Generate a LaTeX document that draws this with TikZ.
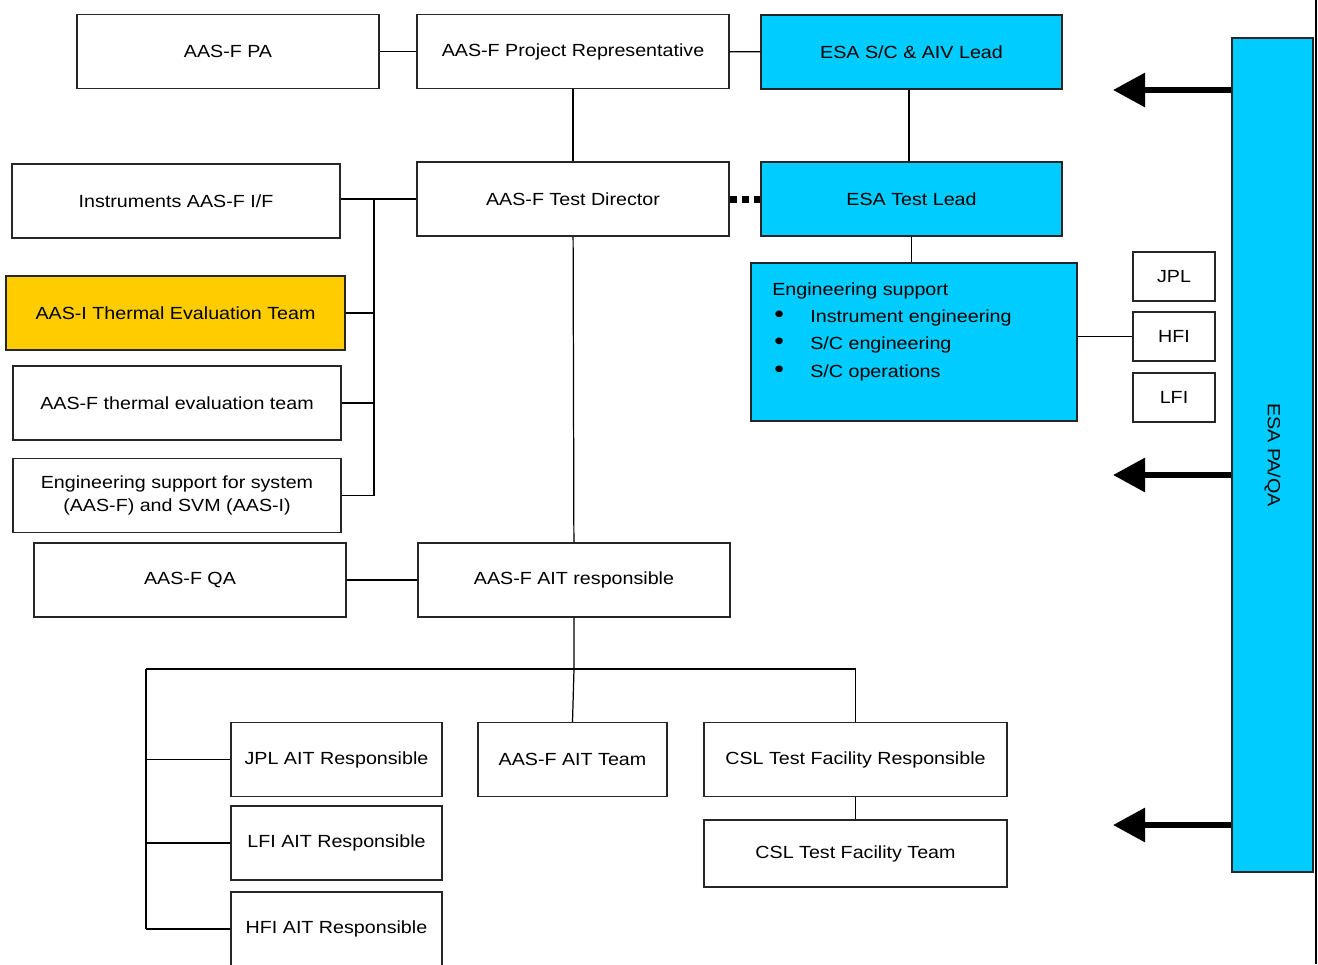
\documentclass[tikz,border=0pt]{standalone}
\usepackage{fontspec}
\setmainfont{Liberation Sans}[FakeStretch=1.12]
\usepackage{tikz}
\usetikzlibrary{arrows.meta}
\definecolor{esablue}{HTML}{00CCFF}
\definecolor{aasyellow}{HTML}{FFCC00}

\begin{document}
\begin{tikzpicture}[x=0.02cm,y=-0.02cm,
    font=\fontsize{10}{12}\selectfont,
    box/.style={draw=black!85, line width=0.7pt, minimum height=1.48cm, inner sep=2pt},
    esabox/.style={box, fill=esablue},
    link/.style={line width=0.7pt},
    buslink/.style={line width=1pt},
    bigarrow/.style={line width=0.12cm, -{Triangle[length=0.64cm,width=0.66cm]}}]
  \clip (0,0) rectangle (1318,964);
  % top row
  \node[box, minimum width=6.04cm] (pa) at (228,51.5) {AAS-F PA};
  \node[box, minimum width=6.24cm] (projrep) at (573,51.5) {AAS-F Project Representative};
  \node[esabox, minimum width=6.02cm] (esasc) at (911.5,52) {ESA S/C \& AIV Lead};
  % second row
  \node[box, minimum width=6.56cm] (instr) at (176,201) {Instruments AAS-F I/F};
  \node[box, minimum width=6.24cm] (testdir) at (573,199) {AAS-F Test Director};
  \node[esabox, minimum width=6.02cm] (esatest) at (911.5,199) {ESA Test Lead};
  % left column
  \node[box, fill=aasyellow, minimum width=6.78cm] (thermi) at (175.5,313) {AAS-I Thermal Evaluation Team};
  \node[box, minimum width=6.56cm] (thermf) at (177,403) {AAS-F thermal evaluation team};
  \node[box, minimum width=6.56cm, align=center, font=\fontsize{10}{13.5}\selectfont] (engsys) at (177,495.5) {Engineering support for system\\(AAS-F) and SVM (AAS-I)};
  \node[box, minimum width=6.24cm] (qa) at (190,580) {AAS-F QA};
  \node[box, minimum width=6.24cm] (ait) at (574,580) {AAS-F AIT responsible};
  % bottom rows
  \node[box, minimum width=4.22cm] (jplait) at (336.5,759.5) {JPL AIT Responsible};
  \node[box, minimum width=4.22cm] (lfiait) at (336.5,843) {LFI AIT Responsible};
  \node[box, minimum width=4.22cm] (hfiait) at (336.5,929) {HFI AIT Responsible};
  \node[box, minimum width=3.78cm] (aitteam) at (572.5,759.5) {AAS-F AIT Team};
  \node[box, minimum width=6.06cm] (cslresp) at (855.5,759.5) {CSL Test Facility Responsible};
  \node[box, minimum width=6.06cm, minimum height=1.34cm] (cslteam) at (855.5,853.5) {CSL Test Facility Team};
  % ESA engineering support
  \node[esabox, minimum width=6.52cm, minimum height=3.16cm] (engbox) at (914,342) {};
  \node[anchor=north west, align=left, inner sep=0pt, font=\fontsize{10}{15.6}\selectfont] (engtxt) at (772,282)
    {Engineering support\\
     \makebox[0.76cm][l]{\hspace{0.04cm}{\fontsize{14}{14}\selectfont\textbullet}}Instrument engineering\\
     \makebox[0.76cm][l]{\hspace{0.04cm}{\fontsize{14}{14}\selectfont\textbullet}}S/C engineering\\
     \makebox[0.76cm][l]{\hspace{0.04cm}{\fontsize{14}{14}\selectfont\textbullet}}S/C operations};
  \node[box, minimum width=1.64cm, minimum height=0.98cm] (jpl) at (1174,276.5) {JPL};
  \node[box, minimum width=1.64cm, minimum height=0.98cm] (hfi) at (1174,336.5) {HFI};
  \node[box, minimum width=1.64cm, minimum height=0.98cm] (lfi) at (1174,397.5) {LFI};
  % PA/QA bar
  \node[esabox, minimum width=1.62cm, minimum height=16.68cm] (paqa) at (1272.5,455) {};
  \node[rotate=-90] (paqatxt) at (paqa.center) {ESA PA/QA};

  \coordinate (lbus) at (374,0);
  \coordinate (bbus) at (146,669);
  \coordinate (edge) at (1316,0);

  % connectors
  \draw[link] (pa) -- (projrep);
  \draw[link] (projrep) -- (esasc);
  \draw[link] (projrep) -- (testdir);
  \draw[link] (esasc.south -| 909,0) -- (esatest.north -| 909,0);
  \draw[line width=0.14cm, dash pattern=on 0.14cm off 0.1cm] (testdir.east) -- (esatest.west);
  \draw[buslink] (testdir.west) -- (instr.east |- testdir.west);
  \draw[buslink] (lbus |- testdir.west) -- (lbus |- engsys.east);
  \draw[buslink] (thermi.east) -- (lbus |- thermi.east);
  \draw[buslink] (thermf.east) -- (lbus |- thermf.east);
  \draw[buslink] (engsys.east) -- (lbus |- engsys.east);
  \draw[link] (testdir) -- (ait);
  \draw[link] (qa) -- (ait);
  \draw[link] (ait.south) -- (ait.south |- bbus) -- (aitteam.north);
  \draw[link] (bbus) -- (cslresp.north |- bbus) -- (cslresp.north);
  \draw[link] (cslresp) -- (cslteam);
  \draw[link] (bbus) -- (bbus |- 0,710);
  \draw[buslink] (bbus |- 0,710) -- (bbus |- hfiait.west);
  \draw[buslink] (jplait.west) -- (bbus |- jplait.west);
  \draw[buslink] (lfiait.west) -- (bbus |- lfiait.west);
  \draw[buslink] (hfiait.west) -- (bbus |- hfiait.west);
  \draw[link] (esatest.south) -- (esatest.south |- engbox.north);
  \draw[link] (hfi.west) -- (hfi.west -| engbox.east);
  \foreach \y in {90,475,825}
    \draw[bigarrow] (paqa.west |- 0,\y) -- (1113,\y);
  \draw[line width=1.1pt] (edge) -- (edge |- 0,964);
\end{tikzpicture}
\end{document}
